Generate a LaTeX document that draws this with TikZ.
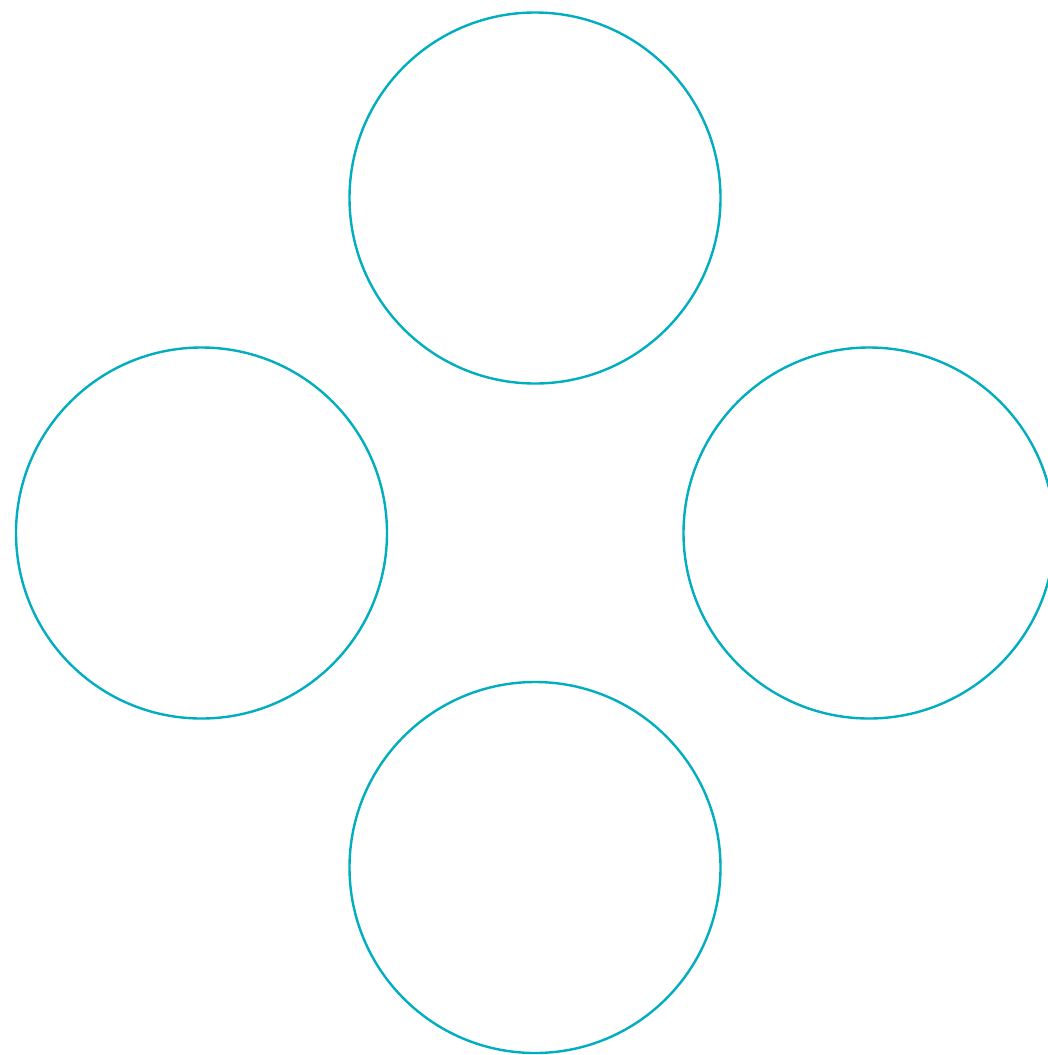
\documentclass[tikz,border=0pt]{standalone}
\definecolor{ring}{HTML}{00AEBF}
\begin{document}
\begin{tikzpicture}[x=1pt,y=-1pt,
  ringnode/.style={circle,draw=ring,line width=2.4pt,minimum size=371pt,inner sep=0pt}]
\clip (0,0) rectangle (1048,1055);
\fill[white] (0,0) rectangle (1048,1055);
\node[ringnode] (top) at (535,198) {};
\node[ringnode] (left) at (201.5,533) {};
\node[ringnode] (right) at (869,533) {};
\node[ringnode] (bottom) at (535,867.5) {};
\end{tikzpicture}
\end{document}
